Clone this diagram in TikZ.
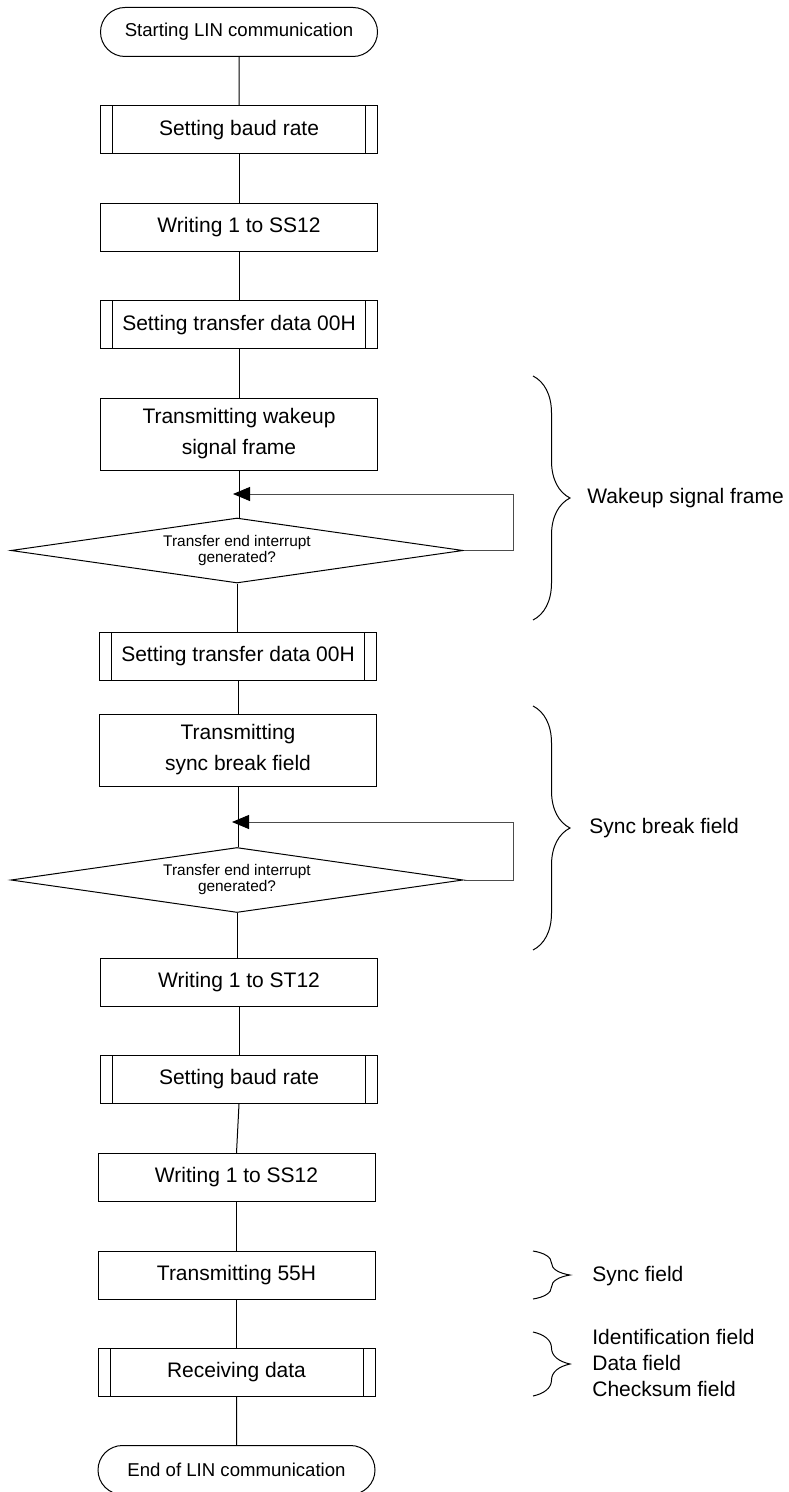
\documentclass[tikz,border=0pt]{standalone}
\usepackage{fontspec}
\setmainfont{Liberation Sans}
\usetikzlibrary{positioning,arrows.meta,shapes.geometric,shapes.misc,decorations.pathreplacing}

\tikzset{
  proc/.style={draw,line width=0.5pt,minimum width=138.5pt,minimum height=24pt,inner sep=0pt,
    align=center,font=\fontsize{10.5}{15.5}\selectfont},
  subproc/.style={proc,path picture={
    \draw ([xshift=6pt]path picture bounding box.north west) -- ([xshift=6pt]path picture bounding box.south west);
    \draw ([xshift=-6pt]path picture bounding box.north east) -- ([xshift=-6pt]path picture bounding box.south east);}},
  term/.style={draw,rounded rectangle,line width=0.5pt,minimum width=138.5pt,minimum height=24.5pt,
    inner sep=0pt,font=\fontsize{9.3}{11}\selectfont},
  decide/.style={draw,diamond,aspect=7,line width=0.5pt,minimum width=226pt,minimum height=32.5pt,
    inner sep=0pt,align=center,font=\fontsize{7.7}{8}\selectfont},
  flow/.style={line width=0.5pt},
  loopback/.style={draw=black!70,line width=0.5pt,-{Triangle[length=8.5pt,width=7pt,color=black]}},
  fieldbrace/.style={decorate,decoration={brace,amplitude=18.5pt},line width=0.5pt},
  fieldlabel/.style={anchor=west,inner sep=0pt,align=left,font=\fontsize{10.5}{13}\selectfont}
}

\begin{document}
\begin{tikzpicture}[x=0.5pt,y=-0.5pt]
\useasboundingbox (0,0) rectangle (788,1492);

% main column
\node[term] (start) at (239,32) {Starting LIN communication};
\node[subproc] (baud1) at (239,130) {Setting baud rate};
\node[proc] (ss1) at (239,227.5) {Writing 1 to SS12};
\node[subproc] (data1) at (239,325) {Setting transfer data 00H};
\node[proc,minimum height=36pt] (wake) at (239,434) {Transmitting wakeup\\signal frame};
\node[decide] (dec1) at (237,550.5) {Transfer end interrupt\\generated?};
\node[subproc] (data2) at (238,656.5) {Setting transfer data 00H};
\node[proc,minimum height=36pt] (brk) at (238,750) {Transmitting\\sync break field};
\node[decide] (dec2) at (237,880) {Transfer end interrupt\\generated?};
\node[proc] (st) at (239,982.5) {Writing 1 to ST12};
\node[subproc] (baud2) at (239,1079.5) {Setting baud rate};
\node[proc] (ss2) at (236.5,1177.5) {Writing 1 to SS12};
\node[proc] (sync) at (236.5,1275.5) {Transmitting 55H};
\node[subproc] (recv) at (236.5,1372.5) {Receiving data};
\node[term] (stop) at (236.5,1470) {End of LIN communication};

\draw[flow] (start) -- (baud1);
\draw[flow] (baud1) -- (ss1);
\draw[flow] (ss1) -- (data1);
\draw[flow] (data1) -- (wake);
\draw[flow] (wake.south) -- (wake.south |- dec1.north);
\draw[flow] (dec1.south) -- (dec1.south |- data2.north);
\draw[flow] (data2) -- (brk);
\draw[flow] (brk.south) -- (brk.south |- dec2.north);
\draw[flow] (dec2.south) -- (dec2.south |- st.north);
\draw[flow] (st) -- (baud2);
\draw[flow] (baud2.south) -- (ss2.north);
\draw[flow] (ss2) -- (sync);
\draw[flow] (sync) -- (recv);
\draw[flow] (recv) -- (stop);

% wait loops
\coordinate (wr1) at (513,494);
\coordinate (wr2) at (513,822);
\draw[loopback] (dec1.east) -| (wr1) -- ([xshift=-3pt]wr1 -| wake.south);
\draw[loopback] (dec2.east) -| (wr2) -- ([xshift=-3pt]wr2 -| brk.south);

% frame fields
\coordinate (b1t) at (533,376);
\coordinate (b1b) at (533,620);
\coordinate (b2t) at (533,706);
\coordinate (b2b) at (533,950);
\coordinate (b3t) at (533,1251);
\coordinate (b3b) at (533,1299);
\coordinate (b4t) at (533,1332);
\coordinate (b4b) at (533,1396);
\draw[fieldbrace] (b1t) -- (b1b);
\draw[fieldbrace] (b2t) -- (b2b);
\draw[fieldbrace] (b3t) -- (b3b);
\draw[fieldbrace] (b4t) -- (b4b);

\node[fieldlabel] (lwake) at (587,498) {Wakeup signal frame};
\node[fieldlabel] (lbrk) at (589,828) {Sync break field};
\node[fieldlabel] (lsync) at (592,1276) {Sync field};
\node[fieldlabel] (lrest) at (592,1363) {Identification field\\Data field\\Checksum field};
\end{tikzpicture}
\end{document}
